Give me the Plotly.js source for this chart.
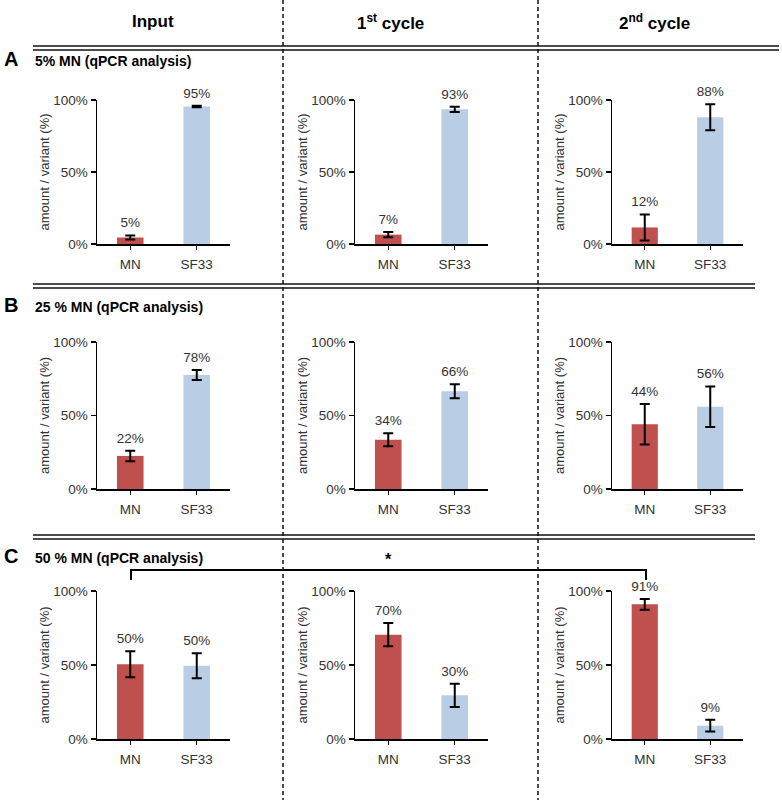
<!DOCTYPE html>
<html>
<head>
<meta charset="utf-8">
<script src="https://cdn.plot.ly/plotly-3.0.1.min.js"></script>
<style>html,body{margin:0;padding:0;background:#fff;}#chart{width:782px;height:802px;}</style>
</head>
<body>
<div id="chart"></div>
<script>
const categories = ['MN', 'SF33'];
const columnTitles = ['Input', '1<sup>st</sup> cycle', '2<sup>nd</sup> cycle'];
const rowLetters = ['A', 'B', 'C'];
const rowTitles = ['5% MN (qPCR analysis)', '25 % MN (qPCR analysis)', '50 % MN (qPCR analysis)'];
const yTickVals = [0, 50, 100];
const yTickText = ['0%', '50%', '100%'];
const yTitle = 'amount / variant (%)';
const barColors = ['#C0504D', '#B9CDE5'];

// values per column: [Input, 1st cycle, 2nd cycle], each [MN, SF33]
const rowA_values = [[4.5, 95.5], [6.5, 93.5], [11.5, 88]];
const rowA_errors = [[1.4, 0.5], [1.8, 1.8], [9, 9]];
const rowA_labels = [['5%', '95%'], ['7%', '93%'], ['12%', '88%']];

const rowB_values = [[22.5, 77.5], [33.5, 66.5], [44, 56]];
const rowB_errors = [[3.6, 3.4], [4.4, 4.8], [13.8, 13.8]];
const rowB_labels = [['22%', '78%'], ['34%', '66%'], ['44%', '56%']];

const rowC_values = [[50.5, 49.5], [70.5, 29.5], [91, 9]];
const rowC_errors = [[8.8, 8.4], [7.8, 7.9], [3.6, 4]];
const rowC_labels = [['50%', '50%'], ['70%', '30%'], ['91%', '9%']];

const W = 782, H = 802;
const fx = p => p / W;
const fy = p => 1 - p / H;

const colX = [[97, 230], [355, 488], [612, 743]];
const rowY = [[100, 244], [342, 489], [591, 739]];

const rows = [
  {v: rowA_values, e: rowA_errors, l: rowA_labels},
  {v: rowB_values, e: rowB_errors, l: rowB_labels},
  {v: rowC_values, e: rowC_errors, l: rowC_labels}
];

const FONT = 'Liberation Sans, Arial, Helvetica, sans-serif';
const data = [];
const layout = {
  width: W, height: H,
  margin: {l: 0, r: 0, t: 0, b: 0},
  paper_bgcolor: '#fff', plot_bgcolor: 'rgba(0,0,0,0)',
  showlegend: false,
  font: {family: FONT, color: '#333'},
  annotations: [], shapes: []
};

rows.forEach((row, r) => {
  for (let c = 0; c < 3; c++) {
    const idx = r * 3 + c + 1;
    const xs = idx === 1 ? '' : String(idx);
    const vals = row.v[c], errs = row.e[c], labs = row.l[c];
    data.push({
      type: 'bar', x: categories, y: vals,
      xaxis: 'x' + xs, yaxis: 'y' + xs,
      width: 0.4,
      marker: {color: barColors, line: {width: 0}},
      error_y: {type: 'data', array: errs, visible: true, color: '#000', thickness: 2, width: 5},
      cliponaxis: false, hoverinfo: 'skip'
    });
    data.push({
      type: 'scatter', mode: 'markers+text', x: categories,
      y: vals.map((v, i) => v + errs[i]),
      xaxis: 'x' + xs, yaxis: 'y' + xs,
      marker: {size: 6, color: 'rgba(0,0,0,0)'},
      text: labs, textposition: 'top center',
      textfont: {size: 13.5, color: '#333', family: FONT},
      cliponaxis: false, hoverinfo: 'skip'
    });
    layout['xaxis' + xs] = {
      domain: [fx(colX[c][0]), fx(colX[c][1])],
      anchor: 'y' + xs, type: 'category', range: [-0.5, 1.5],
      showline: true, linecolor: '#000', linewidth: 1.5,
      ticks: 'outside', ticklen: 4, tickcolor: '#000', tickwidth: 1,
      tickfont: {size: 13.5, color: '#333', family: FONT},
      ticklabelstandoff: 3,
      showgrid: false, zeroline: false, fixedrange: true
    };
    layout['yaxis' + xs] = {
      domain: [fy(rowY[r][1]), fy(rowY[r][0])],
      anchor: 'x' + xs, range: [0, 100],
      tickmode: 'array', tickvals: yTickVals, ticktext: yTickText,
      showline: true, linecolor: '#000', linewidth: 1.5,
      ticks: 'outside', ticklen: 5, tickcolor: '#000', tickwidth: 1.5,
      tickfont: {size: 13.5, color: '#333', family: FONT},
      title: {text: yTitle, font: {size: 13, color: '#333', family: FONT}, standoff: 0},
      showgrid: false, zeroline: false, fixedrange: true
    };
  }
});

// column headers
const headerX = [153, 390, 654];
columnTitles.forEach((t, i) => {
  layout.annotations.push({
    xref: 'paper', yref: 'paper', x: fx(headerX[i]), y: fy(22),
    text: '<b>' + t + '</b>', showarrow: false, xanchor: 'center', yanchor: 'middle',
    font: {size: 17, color: '#000', family: FONT}
  });
});

// row letters and titles
const rowLabelY = [59, 305, 556];
rowLetters.forEach((t, i) => {
  layout.annotations.push({
    xref: 'paper', yref: 'paper', x: fx(2), y: fy(rowLabelY[i]),
    text: '<b>' + t + '</b>', showarrow: false, xanchor: 'left', yanchor: 'middle',
    font: {size: 20, color: '#000', family: FONT}
  });
  layout.annotations.push({
    xref: 'paper', yref: 'paper', x: fx(33), y: fy(rowLabelY[i] + 2),
    text: '<b>' + rowTitles[i] + '</b>', showarrow: false, xanchor: 'left', yanchor: 'middle',
    font: {size: 14, color: '#000', family: FONT}
  });
});

// significance star
layout.annotations.push({
  xref: 'paper', yref: 'paper', x: fx(388), y: fy(559),
  text: '<b>*</b>', showarrow: false, xanchor: 'center', yanchor: 'middle',
  font: {size: 16, color: '#000', family: FONT}
});

// double horizontal separators
const sepLines = [[46, 50, 33, 779], [284, 288, 33, 755], [535, 539, 33, 755]];
sepLines.forEach(s => {
  [s[0], s[1]].forEach(yy => {
    layout.shapes.push({
      type: 'line', xref: 'paper', yref: 'paper',
      x0: fx(s[2]), x1: fx(s[3]), y0: fy(yy), y1: fy(yy),
      line: {color: '#111', width: 1.5}
    });
  });
});

// dashed vertical separators
[283, 538].forEach(xx => {
  layout.shapes.push({
    type: 'line', xref: 'paper', yref: 'paper',
    x0: fx(xx), x1: fx(xx), y0: fy(0), y1: fy(800),
    line: {color: '#111', width: 1.5, dash: '4px,3px'}
  });
});

// significance bracket
layout.shapes.push({
  type: 'path', xref: 'paper', yref: 'paper',
  path: 'M ' + fx(131) + ' ' + fy(580) + ' L ' + fx(131) + ' ' + fy(570) +
        ' L ' + fx(646) + ' ' + fy(570) + ' L ' + fx(646) + ' ' + fy(580),
  line: {color: '#000', width: 2}
});

Plotly.newPlot('chart', data, layout, {displayModeBar: false, staticPlot: true});
</script>
</body>
</html>
